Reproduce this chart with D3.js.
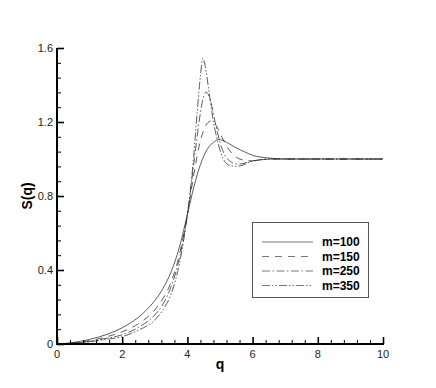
<!DOCTYPE html>
<html>
<head>
<meta charset="utf-8">
<script src="https://cdn.jsdelivr.net/npm/d3@7"></script>
<style>
  body { margin: 0; background: #fff; }
  svg { display: block; font-family: "Liberation Sans", Arial, sans-serif; }
</style>
</head>
<body>
<div id="chart"></div>
<script>
// S(q) for four chain lengths
const seriesNames = ['m=100', 'm=150', 'm=250', 'm=350'];
const q100 = [0, 0.5, 1, 1.5, 2, 2.5, 3, 3.25, 3.5, 3.75, 4, 4.2, 4.4, 4.6, 4.8, 4.95, 5.1, 5.3, 5.5, 5.8, 6, 6.5, 7, 8, 10];
const s100 = [0, 0.008, 0.025, 0.05, 0.088, 0.145, 0.235, 0.3, 0.39, 0.52, 0.7, 0.85, 0.97, 1.05, 1.09, 1.105, 1.1, 1.08, 1.06, 1.035, 1.02, 1.005, 1.0, 1.0, 1.0];
const q150 = [0, 0.5, 1, 1.5, 2, 2.5, 3, 3.25, 3.5, 3.75, 4, 4.2, 4.4, 4.6, 4.72, 4.85, 5.0, 5.2, 5.4, 5.6, 5.9, 6.2, 6.6, 7, 8, 10];
const s150 = [0, 0.006, 0.018, 0.038, 0.066, 0.11, 0.185, 0.245, 0.335, 0.48, 0.7, 0.92, 1.1, 1.19, 1.205, 1.19, 1.14, 1.07, 1.025, 1.0, 0.99, 0.995, 1.0, 1.0, 1.0, 1.0];
const q250 = [0, 0.5, 1, 1.5, 2, 2.5, 3, 3.25, 3.5, 3.75, 4, 4.2, 4.4, 4.5, 4.58, 4.7, 4.85, 5.0, 5.15, 5.3, 5.5, 5.7, 5.9, 6.2, 6.6, 7, 8, 10];
const s250 = [0, 0.005, 0.014, 0.03, 0.05, 0.09, 0.157, 0.215, 0.31, 0.46, 0.7, 0.98, 1.25, 1.34, 1.362, 1.32, 1.2, 1.09, 1.02, 0.99, 0.972, 0.975, 0.985, 0.995, 1.0, 1.0, 1.0, 1.0];
const q350 = [0, 0.5, 1, 1.5, 2, 2.5, 3, 3.25, 3.5, 3.75, 4, 4.15, 4.3, 4.4, 4.47, 4.55, 4.65, 4.8, 4.95, 5.1, 5.3, 5.5, 5.7, 5.9, 6.2, 6.6, 7, 8, 10];
const s350 = [0, 0.004, 0.012, 0.025, 0.04, 0.075, 0.13, 0.185, 0.27, 0.43, 0.7, 0.93, 1.25, 1.45, 1.544, 1.5, 1.38, 1.2, 1.08, 1.0, 0.965, 0.96, 0.967, 0.982, 0.995, 1.0, 1.0, 1.0, 1.0];
const xTicks = [0, 2, 4, 6, 8, 10];
const yTicks = [0, 0.4, 0.8, 1.2, 1.6];

const dashes = ['none', '7,6', '8,2.5,1.5,2.5', '8,2,1.5,2,1.5,2'];
const series = [
  {name: seriesNames[0], q: q100, s: s100},
  {name: seriesNames[1], q: q150, s: s150},
  {name: seriesNames[2], q: q250, s: s250},
  {name: seriesNames[3], q: q350, s: s350}
];

const W = 436, H = 388;
const plotLeft = 57, plotRight = 383, plotTop = 48, plotBottom = 344;

const x = d3.scaleLinear().domain([0, 10]).range([plotLeft, plotRight]);
const y = d3.scaleLinear().domain([0, 1.6]).range([plotBottom, plotTop]);

const svg = d3.select('#chart').append('svg')
  .attr('width', W).attr('height', H);

// curves
const line = d3.line()
  .x(d => x(d[0]))
  .y(d => y(d[1]))
  .curve(d3.curveMonotoneX);

series.forEach((sr, i) => {
  svg.append('path')
    .datum(sr.q.map((v, k) => [v, sr.s[k]]))
    .attr('d', line)
    .attr('fill', 'none')
    .attr('stroke', '#333')
    .attr('stroke-width', 0.8)
    .attr('stroke-dasharray', dashes[i]);
});

// axes, ticks pointing inward
const xMinor = d3.range(0, 10.001, 0.4).filter(v => xTicks.indexOf(+v.toFixed(1)) < 0);
const yMinor = d3.range(0, 1.6001, 0.08).filter(v => yTicks.indexOf(+v.toFixed(2)) < 0);

const xAxis = svg.append('g')
  .attr('transform', 'translate(0,' + plotBottom + ')')
  .call(d3.axisTop(x).tickValues(xTicks).tickSize(7).tickFormat(''));
xAxis.select('.domain').remove();
xAxis.selectAll('line').attr('stroke', '#000').attr('stroke-width', 1.6);

const xAxisMinor = svg.append('g')
  .attr('transform', 'translate(0,' + plotBottom + ')')
  .call(d3.axisTop(x).tickValues(xMinor).tickSize(4).tickFormat(''));
xAxisMinor.select('.domain').remove();
xAxisMinor.selectAll('line').attr('stroke', '#000').attr('stroke-width', 1);

const yAxis = svg.append('g')
  .attr('transform', 'translate(' + plotLeft + ',0)')
  .call(d3.axisRight(y).tickValues(yTicks).tickSize(7).tickFormat(''));
yAxis.select('.domain').remove();
yAxis.selectAll('line').attr('stroke', '#000').attr('stroke-width', 1.6);

const yAxisMinor = svg.append('g')
  .attr('transform', 'translate(' + plotLeft + ',0)')
  .call(d3.axisRight(y).tickValues(yMinor).tickSize(4).tickFormat(''));
yAxisMinor.select('.domain').remove();
yAxisMinor.selectAll('line').attr('stroke', '#000').attr('stroke-width', 1);

svg.append('line')
  .attr('x1', plotLeft).attr('x2', plotRight + 1)
  .attr('y1', plotBottom).attr('y2', plotBottom)
  .attr('stroke', '#000').attr('stroke-width', 2);
svg.append('line')
  .attr('x1', plotLeft).attr('x2', plotLeft)
  .attr('y1', plotTop).attr('y2', plotBottom + 1)
  .attr('stroke', '#000').attr('stroke-width', 2);

// tick labels
svg.selectAll('.xl').data(xTicks).enter().append('text')
  .attr('x', d => x(d)).attr('y', plotBottom + 14)
  .attr('text-anchor', 'middle')
  .attr('font-size', 11).attr('fill', '#222')
  .text(d => d);

svg.selectAll('.yl').data(yTicks).enter().append('text')
  .attr('x', plotLeft - 4).attr('y', d => y(d) + 4)
  .attr('text-anchor', 'end')
  .attr('font-size', 11).attr('fill', '#222')
  .text(d => d);

// axis titles
svg.append('text')
  .attr('x', 220).attr('y', 369)
  .attr('text-anchor', 'middle')
  .attr('font-size', 14).attr('font-weight', 'bold')
  .text('q');

svg.append('text')
  .attr('transform', 'translate(32,' + y(0.8) + ') rotate(-90)')
  .attr('text-anchor', 'middle')
  .attr('font-size', 14).attr('font-weight', 'bold')
  .text('S(q)');

// legend
const lg = svg.append('g');
lg.append('rect')
  .attr('x', 252.5).attr('y', 222.5)
  .attr('width', 116).attr('height', 75)
  .attr('fill', '#fff').attr('stroke', '#555').attr('stroke-width', 1);

series.forEach((sr, i) => {
  const ly = 242 + i * 14.5;
  lg.append('line')
    .attr('x1', 262).attr('x2', 313)
    .attr('y1', ly).attr('y2', ly)
    .attr('stroke', '#555').attr('stroke-width', 0.8)
    .attr('stroke-dasharray', dashes[i]);
  lg.append('text')
    .attr('x', 322).attr('y', ly + 4)
    .attr('font-size', 12).attr('font-weight', 'bold')
    .text(sr.name);
});
</script>
</body>
</html>
